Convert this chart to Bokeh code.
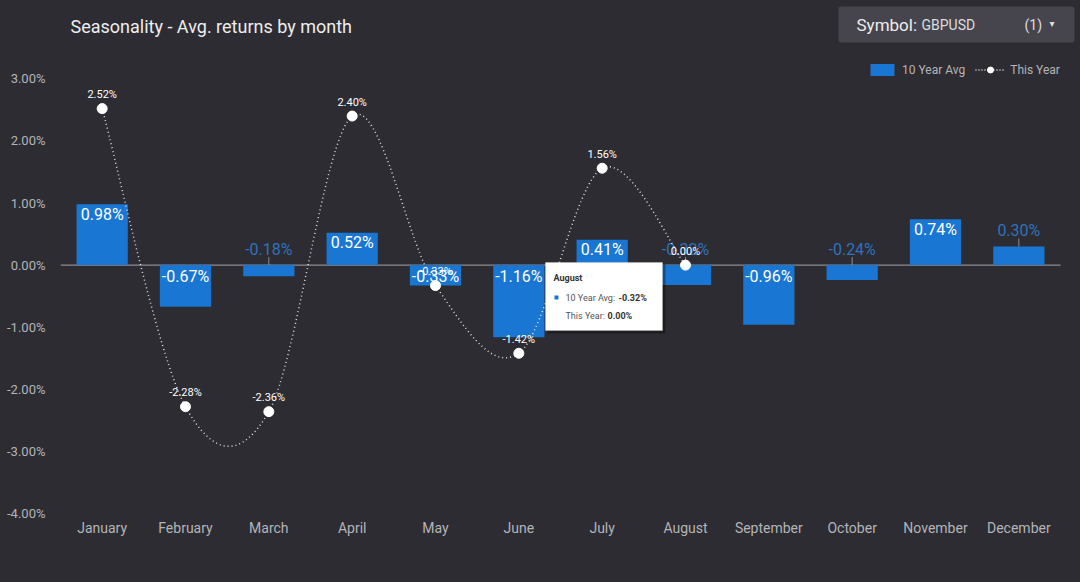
from bokeh.plotting import figure
from bokeh.models import (Range1d, FixedTicker, ColumnDataSource, Label,
                          BoxAnnotation, Legend, LegendItem)
from bokeh.embed import file_html
from bokeh.resources import INLINE
from bokeh.core.properties import value

# ---------------- data ----------------
months = ["January", "February", "March", "April", "May", "June", "July",
          "August", "September", "October", "November", "December"]
avg_10y = [0.98, -0.67, -0.18, 0.52, -0.33, -1.16, 0.41, -0.32, -0.96, -0.24, 0.74, 0.30]
this_year = [2.52, -2.28, -2.36, 2.40, -0.33, -1.42, 1.56, 0.00]
y_ticks = [-4, -3, -2, -1, 0, 1, 2, 3]
title_text = "Seasonality - Avg. returns by month"
symbol_name = "GBPUSD"
symbol_count = "(1)"
tooltip_month = 7  # August

# ---------------- style ----------------
BG = "#2d2c32"
BLUE = "#1976d2"
BLUE_TXT = "#2f72bd"
FONT = "Roboto"
W, H = 1080, 582
BL, BR, BT, BB = 60, 0, 0, 69
PX_X = 1000 / 12.0          # px per month
PX_Y = 62.1                 # px per 1 %
FRAME_W = W - BL - BR
FRAME_H = H - BT - BB
Y0 = -4.0
Y1 = Y0 + FRAME_H / PX_Y
X1 = FRAME_W / PX_X
ZERO_PAGE = BT + FRAME_H - (0 - Y0) * PX_Y  # page y of the zero line


def dx(page_x):
    return (page_x - BL) / PX_X


def dy(page_y):
    return (ZERO_PAGE - page_y) / PX_Y


p = figure(width=W, height=H, x_range=Range1d(0, X1), y_range=Range1d(Y0, Y1),
           output_backend="svg", toolbar_location=None,
           min_border_left=BL, min_border_right=BR, min_border_top=BT,
           min_border_bottom=BB, background_fill_color=BG,
           border_fill_color=BG, outline_line_color=None)
p.xgrid.visible = False
p.ygrid.visible = False

xc = [i + 0.5 for i in range(len(months))]
p.xaxis.ticker = FixedTicker(ticks=xc)
p.xaxis.major_label_overrides = {x: m for x, m in zip(xc, months)}
p.yaxis.ticker = FixedTicker(ticks=y_ticks)
p.yaxis.major_label_overrides = {t: f"{t:.2f}%" for t in y_ticks}
for ax in (p.xaxis, p.yaxis):
    ax.axis_line_color = None
    ax.major_tick_line_color = None
    ax.minor_tick_line_color = None
    ax.major_label_text_font = FONT
    ax.major_label_text_color = "#b4b4b8"
p.xaxis.major_label_text_font_size = "14px"
p.xaxis.major_label_standoff = 0
p.yaxis.major_label_text_font_size = "13px"
p.yaxis.major_label_standoff = 9

# zero line
p.segment(x0=[0], y0=[0], x1=[len(months)], y1=[0], line_color="#8c8c90", line_width=1.2)

# bars
bar_src = ColumnDataSource(dict(x=xc, top=avg_10y))
bars = p.vbar(x="x", top="top", bottom=0, width=0.615, source=bar_src,
              fill_color=BLUE, line_color=None)

# bar labels
ins_pos = dict(x=[], y=[], t=[])
ins_neg = dict(x=[], y=[], t=[])
outs = dict(x=[], y=[], t=[], y1=[])
for x, v in zip(xc, avg_10y):
    t = f"{v:.2f}%"
    if abs(v) < 0.325:
        a = max(v, 0)
        outs["x"].append(x); outs["y"].append(a); outs["t"].append(t)
        outs["y1"].append(a + 8 / PX_Y)
    elif v > 0:
        ins_pos["x"].append(x); ins_pos["y"].append(v); ins_pos["t"].append(t)
    else:
        ins_neg["x"].append(x); ins_neg["y"].append(0); ins_neg["t"].append(t)

common = dict(text="t", text_align="center", text_baseline="middle",
              text_font=value(FONT), text_font_size="16px")
p.text(x="x", y="y", source=ColumnDataSource(ins_pos), y_offset=10,
       text_color="white", **common)
p.text(x="x", y="y", source=ColumnDataSource(ins_neg), y_offset=11,
       text_color="white", **common)
out_src = ColumnDataSource(outs)
p.segment(x0="x", y0="y", x1="x", y1="y1", source=out_src,
          line_color="#8c8c90", line_width=1)
p.text(x="x", y="y", source=out_src, y_offset=-16, text_color=BLUE_TXT, **common)

# this-year smooth dotted line (Catmull-Rom through the points)
tx = xc[:len(this_year)]
pts = list(zip(tx, this_year))
n = len(pts)
bz = dict(x0=[], y0=[], x1=[], y1=[], cx0=[], cy0=[], cx1=[], cy1=[])
for i in range(n - 1):
    p0 = pts[max(i - 1, 0)]
    p1 = pts[i]
    p2 = pts[i + 1]
    p3 = pts[min(i + 2, n - 1)]
    bz["x0"].append(p1[0]); bz["y0"].append(p1[1])
    bz["x1"].append(p2[0]); bz["y1"].append(p2[1])
    bz["cx0"].append(p1[0] + (p2[0] - p0[0]) / 6)
    bz["cy0"].append(p1[1] + (p2[1] - p0[1]) / 6)
    bz["cx1"].append(p2[0] - (p3[0] - p1[0]) / 6)
    bz["cy1"].append(p2[1] - (p3[1] - p1[1]) / 6)
p.bezier(x0="x0", y0="y0", x1="x1", y1="y1", cx0="cx0", cy0="cy0",
         cx1="cx1", cy1="cy1", source=ColumnDataSource(bz),
         line_color="white", line_alpha=0.85, line_width=1.5, line_dash="1 3")

ty_src = ColumnDataSource(dict(x=tx, y=this_year, t=[f"{v:.2f}%" for v in this_year]))
pts_r = p.scatter(x="x", y="y", source=ty_src, size=10, fill_color="white",
                  line_color="white")
p.text(x="x", y="y", text="t", source=ty_src, y_offset=-14, text_align="center",
       text_baseline="middle", text_font=value(FONT), text_font_size="11px",
       text_color="white")

# legend (single-point line: draws nothing in the plot, only the legend glyph)
leg_line = p.line(x=tx[:1], y=this_year[:1], line_color="white", line_alpha=0.9,
                  line_width=1.5, line_dash="1 2")
legend = Legend(items=[LegendItem(label="10 Year Avg", renderers=[bars]),
                       LegendItem(label="This Year", renderers=[leg_line, pts_r])],
                orientation="horizontal", location=(807, 436),
                background_fill_alpha=0, border_line_color=None,
                label_text_color="#b4b4b8", label_text_font=FONT,
                label_text_font_size="12px", glyph_width=30, glyph_height=15,
                label_standoff=5, spacing=10, padding=6, margin=0)
p.add_layout(legend)

# tooltip box (hovered August)
p.add_layout(BoxAnnotation(left=dx(547), right=dx(665), top=dy(263), bottom=dy(333),
                           fill_color="black", fill_alpha=0.35, line_color=None,
                           level="overlay"))
p.add_layout(BoxAnnotation(left=dx(545), right=dx(662), top=dy(262), bottom=dy(330),
                           fill_color="white", fill_alpha=1, line_color="#dddddd",
                           line_width=1, level="overlay"))
p.add_layout(BoxAnnotation(left=dx(554), right=dx(558), top=dy(295), bottom=dy(299),
                           fill_color=BLUE, fill_alpha=1, line_color=None,
                           level="overlay"))
tt = [
    (dx(553), dy(277), months[tooltip_month], "bold", "#333333"),
    (dx(565), dy(297), "10 Year Avg: ", "normal", "#555555"),
    (dx(618), dy(297), f"{avg_10y[tooltip_month]:.2f}%", "bold", "#333333"),
    (dx(565), dy(315), "This Year: ", "normal", "#555555"),
    (dx(607), dy(315), f"{this_year[tooltip_month]:.2f}%", "bold", "#333333"),
]
for x, y, t, st, col in tt:
    p.add_layout(Label(x=x, y=y, text=t, text_font=FONT, text_font_size="9px",
                       text_font_style=st, text_color=col, text_baseline="middle",
                       level="overlay"))

# header
p.add_layout(Label(x=dx(70), y=dy(26), text=title_text, text_font=FONT,
                   text_font_size="18px", text_color="#eeeeee",
                   text_baseline="middle"))
p.add_layout(BoxAnnotation(left=dx(838), right=dx(1074), top=dy(6), bottom=dy(42),
                           fill_color="#46454d", fill_alpha=1, line_color=None,
                           border_radius=3))
p.add_layout(Label(x=dx(856), y=dy(24), text="Symbol:", text_font=FONT,
                   text_font_size="17px", text_color="#eeeeee",
                   text_baseline="middle"))
p.add_layout(Label(x=dx(921), y=dy(24), text=symbol_name, text_font=FONT,
                   text_font_size="14px", text_color="#dddddd",
                   text_baseline="middle"))
p.add_layout(Label(x=dx(1024), y=dy(24), text=symbol_count, text_font=FONT,
                   text_font_size="14px", text_color="#dddddd",
                   text_baseline="middle"))
p.add_layout(Label(x=dx(1049), y=dy(23), text="\u25be", text_font="DejaVu Sans",
                   text_font_size="10px", text_color="#dddddd",
                   text_baseline="middle"))

html = file_html(p, INLINE)
html = html.replace("<head>", "<head><style>body{background:#2d2c32;}</style>", 1)
open("out.html", "w").write(html)
